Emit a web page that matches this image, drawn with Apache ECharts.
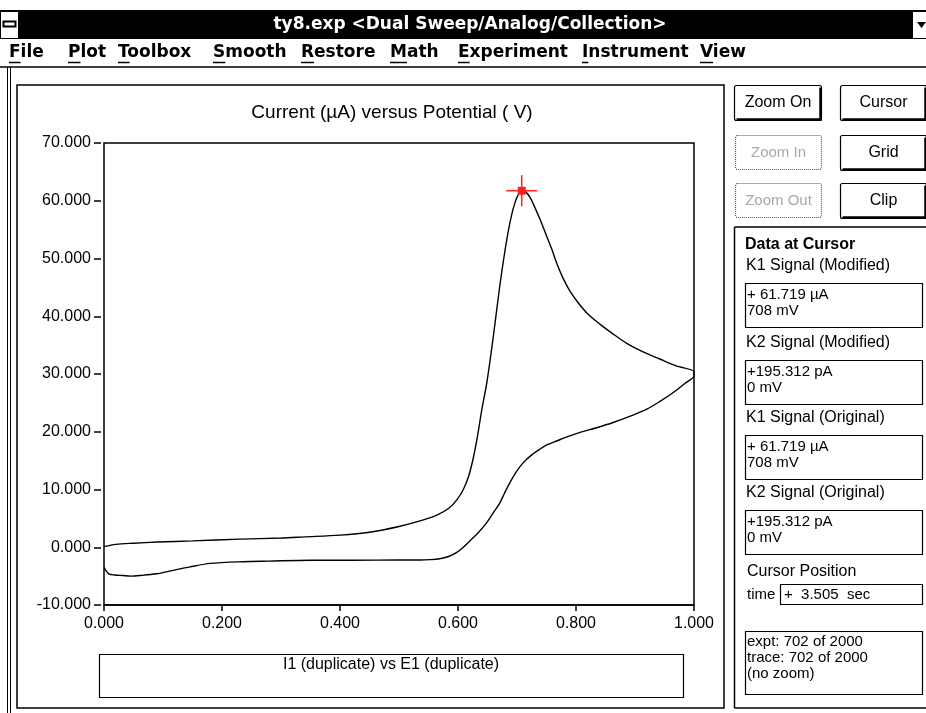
<!DOCTYPE html>
<html>
<head>
<meta charset="utf-8">
<script src="https://cdn.jsdelivr.net/npm/echarts@6/dist/echarts.min.js"></script>
<style>
html, body { margin: 0; padding: 0; background: #fff; }
#chart { width: 926px; height: 713px; }
</style>
</head>
<body>
<div id="chart"></div>
<script>
// Forward sweep, 0 V -> 1 V (potential in V, current in µA)
const potentialForward = [0.000, 0.020, 0.050, 0.090, 0.150, 0.230, 0.300, 0.340, 0.400, 0.450, 0.500,
  0.540, 0.565, 0.585, 0.598, 0.609, 0.618, 0.626, 0.633, 0.640, 0.649, 0.657, 0.664, 0.671,
  0.678, 0.685, 0.691, 0.697, 0.702, 0.708,
  0.715, 0.722, 0.730, 0.739, 0.749, 0.759, 0.768, 0.778, 0.790, 0.804, 0.820, 0.841, 0.862,
  0.886, 0.912, 0.942, 0.970, 1.000];
const currentForward = [0.1, 0.5, 0.7, 0.9, 1.1, 1.4, 1.6, 1.8, 2.1, 2.6, 3.6,
  4.7, 5.6, 6.8, 8.2, 10.0, 12.3, 15.5, 19.2, 23.6, 28.6, 34.3, 39.8, 45.4,
  50.3, 54.6, 57.6, 59.8, 61.0, 61.719,
  61.5, 60.6, 58.9, 56.8, 54.2, 51.6, 49.0, 46.6, 44.3, 42.3, 40.4, 38.6, 37.0,
  35.3, 33.9, 32.6, 31.4, 30.4];

// Reverse sweep, 1 V -> 0 V
const potentialReverse = [1.000, 0.985, 0.965, 0.943, 0.920, 0.892, 0.863, 0.835, 0.807, 0.787,
  0.767, 0.752, 0.739, 0.725, 0.711, 0.699, 0.688, 0.679, 0.671, 0.660, 0.649, 0.635, 0.620,
  0.609, 0.598, 0.584, 0.569, 0.552, 0.536, 0.500, 0.420, 0.349, 0.280, 0.236, 0.180, 0.146,
  0.117, 0.089, 0.061, 0.045, 0.032, 0.018, 0.008, 0.003, 0.000];
const currentReverse = [29.7, 28.4, 26.8, 25.3, 23.9, 22.7, 21.6, 20.7, 19.9, 19.2,
  18.4, 17.8, 17.0, 16.0, 14.7, 13.1, 11.2, 9.4, 7.7, 6.0, 4.3, 2.6, 1.1,
  0.0, -0.9, -1.6, -2.0, -2.15, -2.2, -2.2, -2.25, -2.25, -2.4, -2.5, -2.8, -3.4,
  -4.0, -4.6, -4.9, -5.0, -4.9, -4.8, -4.6, -4.0, -3.5];

// Cursor position on the trace
const cursorPotential = [0.708];
const cursorCurrent = [61.719];

// Axis ticks
const potentialTicks = [0.0, 0.2, 0.4, 0.6, 0.8, 1.0];
const currentTicks = [-10, 0, 10, 20, 30, 40, 50, 60, 70];

// Window texts
const windowTitle = 'ty8.exp <Dual Sweep/Analog/Collection>';
const menuItems = ['File', 'Plot', 'Toolbox', 'Smooth', 'Restore', 'Math', 'Experiment', 'Instrument', 'View'];
const chartTitle = 'Current (\u00b5A) versus Potential ( V)';
const legendText = 'I1 (duplicate) vs E1 (duplicate)';
const cursorLines = [
  { label: 'K1 Signal (Modified)', values: ['+ 61.719 \u00b5A', '708 mV'] },
  { label: 'K2 Signal (Modified)', values: ['+195.312 pA', '0 mV'] },
  { label: 'K1 Signal (Original)', values: ['+ 61.719 \u00b5A', '708 mV'] },
  { label: 'K2 Signal (Original)', values: ['+195.312 pA', '0 mV'] }
];
const cursorTime = '+  3.505  sec';
const pointInfo = ['expt: 702 of 2000', 'trace: 702 of 2000', '(no zoom)'];

// ---------- layout ----------
const SANS = '"Liberation Sans", Arial, sans-serif';
const SYS = '"DejaVu Sans", sans-serif';
const menuX = [9, 68, 118, 213, 301, 390, 458, 582, 700];

const measure = document.createElement('canvas').getContext('2d');
function textWidth(t, font) { measure.font = font; return measure.measureText(t).width; }

const g = [];
function line(x1, y1, x2, y2, w, color, dash) {
  g.push({ type: 'line', silent: true, shape: { x1, y1, x2, y2 },
    style: { stroke: color || '#000', lineWidth: w || 1, lineDash: dash || null } });
}
function rect(x, y, w, h, opts) {
  g.push(Object.assign({ type: 'rect', silent: true, shape: { x, y, width: w, height: h, r: (opts && opts.r) || 0 } },
    { style: Object.assign({ fill: 'none', stroke: '#000', lineWidth: 1 }, (opts && opts.style) || {}) }));
}
function text(t, x, y, font, color, align) {
  g.push({ type: 'text', silent: true, x, y,
    style: { text: t, font, fill: color || '#000', textAlign: align || 'left', textVerticalAlign: 'middle' } });
}

// title bar
rect(0, 11, 926, 28, { style: { fill: '#000', stroke: null } });
rect(1, 12, 17, 26, { style: { fill: '#fff', stroke: null } });
rect(3.5, 21.5, 12, 5, { style: { fill: '#fff', stroke: '#000', lineWidth: 2 } });
rect(913, 12, 13, 26, { style: { fill: '#fff', stroke: null } });
g.push({ type: 'polygon', silent: true, shape: { points: [[917, 22], [926, 22], [921.5, 28]] }, style: { fill: '#000' } });
text(windowTitle, 470, 25, 'bold 17px ' + SYS, '#fff', 'center');
line(0, 10.5, 926, 10.5, 1, '#000');

// menu bar
const menuFont = 'bold 17px ' + SYS;
menuItems.forEach((m, i) => {
  text(m, menuX[i], 53, menuFont, '#000', 'left');
  const w = textWidth(m[0], menuFont);
  line(menuX[i], 62.5, menuX[i] + w, 62.5, 1.5, '#000');
});
line(0, 67, 926, 67, 1.5, '#000');

// window frame
line(7.5, 67, 7.5, 713, 1, '#000');
line(10.5, 67, 10.5, 713, 1, '#000');

// chart panel
rect(17, 85, 707, 623, { style: { lineWidth: 1.5 } });
text(chartTitle, 392, 113, '19px ' + SANS, '#000', 'center');

// legend box
rect(99.5, 654.5, 584, 43, { style: { lineWidth: 1.2 } });
text(legendText, 391, 665, '16px ' + SANS, '#000', 'center');

// buttons
function button(label, x, y, w, h, enabled) {
  if (enabled) {
    rect(x, y, w, h, { r: 2, style: { lineWidth: 1.2 } });
    line(x + 2, y + h - 1, x + w, y + h - 1, 2.5, '#000');
    line(x + w - 1, y + 2, x + w - 1, y + h, 2.5, '#000');
    text(label, x + w / 2, y + h / 2, '16px ' + SANS, '#000', 'center');
  } else {
    rect(x, y, w, h, { r: 2, style: { lineWidth: 1.2, stroke: '#555', lineDash: [1, 1] } });
    text(label, x + w / 2, y + h / 2, '15px ' + SANS, '#a8a8a8', 'center');
  }
}
button('Zoom On', 734.5, 85.5, 87, 35, true);
button('Cursor', 840.5, 85.5, 86, 35, true);
button('Zoom In', 735.5, 135.5, 86, 34, false);
button('Grid', 840.5, 135.5, 86, 35, true);
button('Zoom Out', 735.5, 183.5, 86, 34, false);
button('Clip', 840.5, 183.5, 86, 35, true);

// data-at-cursor panel
line(734.5, 227, 926, 227, 1.5, '#000');
line(734.5, 227, 734.5, 708, 1.5, '#000');
line(734.5, 708, 926, 708, 1.5, '#000');
text('Data at Cursor', 745, 245, 'bold 16px ' + SANS, '#000', 'left');
const groupTop = [266, 343, 418, 493];
cursorLines.forEach((c, i) => {
  const y0 = groupTop[i];
  text(c.label, 746, y0, '16px ' + SANS, '#000', 'left');
  rect(745.5, y0 + 17.5, 177, 44, { style: { lineWidth: 1.2 } });
  text(c.values[0], 747, y0 + 29, '15px ' + SANS, '#000', 'left');
  text(c.values[1], 747, y0 + 45, '15px ' + SANS, '#000', 'left');
});
text('Cursor Position', 747, 572, '16px ' + SANS, '#000', 'left');
text('time', 747, 595, '15px ' + SANS, '#000', 'left');
rect(780.5, 584.5, 142, 20, { style: { lineWidth: 1.2 } });
text(cursorTime, 784, 595, '15px ' + SANS, '#000', 'left');
rect(745.5, 631.5, 177, 63, { style: { lineWidth: 1.2 } });
pointInfo.forEach((t, i) => text(t, 747, 642 + i * 16, '15px ' + SANS, '#000', 'left'));

// ---------- chart ----------
const trace = potentialForward.map((x, i) => [x, currentForward[i]])
  .concat(potentialReverse.map((x, i) => [x, currentReverse[i]]));
const cursorPoint = cursorPotential.map((x, i) => [x, cursorCurrent[i]]);

const chart = echarts.init(document.getElementById('chart'), null, { renderer: 'canvas' });
chart.setOption({
  animation: false,
  backgroundColor: '#fff',
  grid: { left: 104, right: 232, top: 143, bottom: 108, show: true, borderColor: '#000', borderWidth: 1.5, backgroundColor: 'transparent' },
  xAxis: {
    type: 'value',
    min: potentialTicks[0], max: potentialTicks[potentialTicks.length - 1],
    interval: potentialTicks[1] - potentialTicks[0],
    axisLine: { show: true, onZero: false, lineStyle: { color: '#000', width: 1.5 } },
    axisTick: { show: true, length: 6, lineStyle: { color: '#000', width: 1.5 } },
    axisLabel: { color: '#000', fontFamily: SANS, fontSize: 16, margin: 11, formatter: v => v.toFixed(3) },
    splitLine: { show: false }
  },
  yAxis: {
    type: 'value',
    min: currentTicks[0], max: currentTicks[currentTicks.length - 1],
    interval: currentTicks[1] - currentTicks[0],
    offset: 3,
    axisLine: { show: false, onZero: false },
    axisTick: { show: true, length: 7, lineStyle: { color: '#000', width: 1.5 } },
    axisLabel: { color: '#000', fontFamily: SANS, fontSize: 16, margin: 10, formatter: v => v.toFixed(3) },
    splitLine: { show: false }
  },
  series: [
    {
      type: 'line',
      data: trace,
      showSymbol: false,
      smooth: 0.3,
      lineStyle: { color: '#000', width: 1.4 },
      z: 2
    },
    {
      type: 'scatter',
      data: cursorPoint,
      symbol: 'path://M0,14.75h31v1.5H0z M14.75,0h1.5v31h-1.5z M11.5,11.5h8v8h-8z',
      symbolSize: 31,
      itemStyle: { color: '#ff2020', opacity: 1 },
      z: 3
    }
  ],
  graphic: { elements: g }
});
</script>
</body>
</html>
